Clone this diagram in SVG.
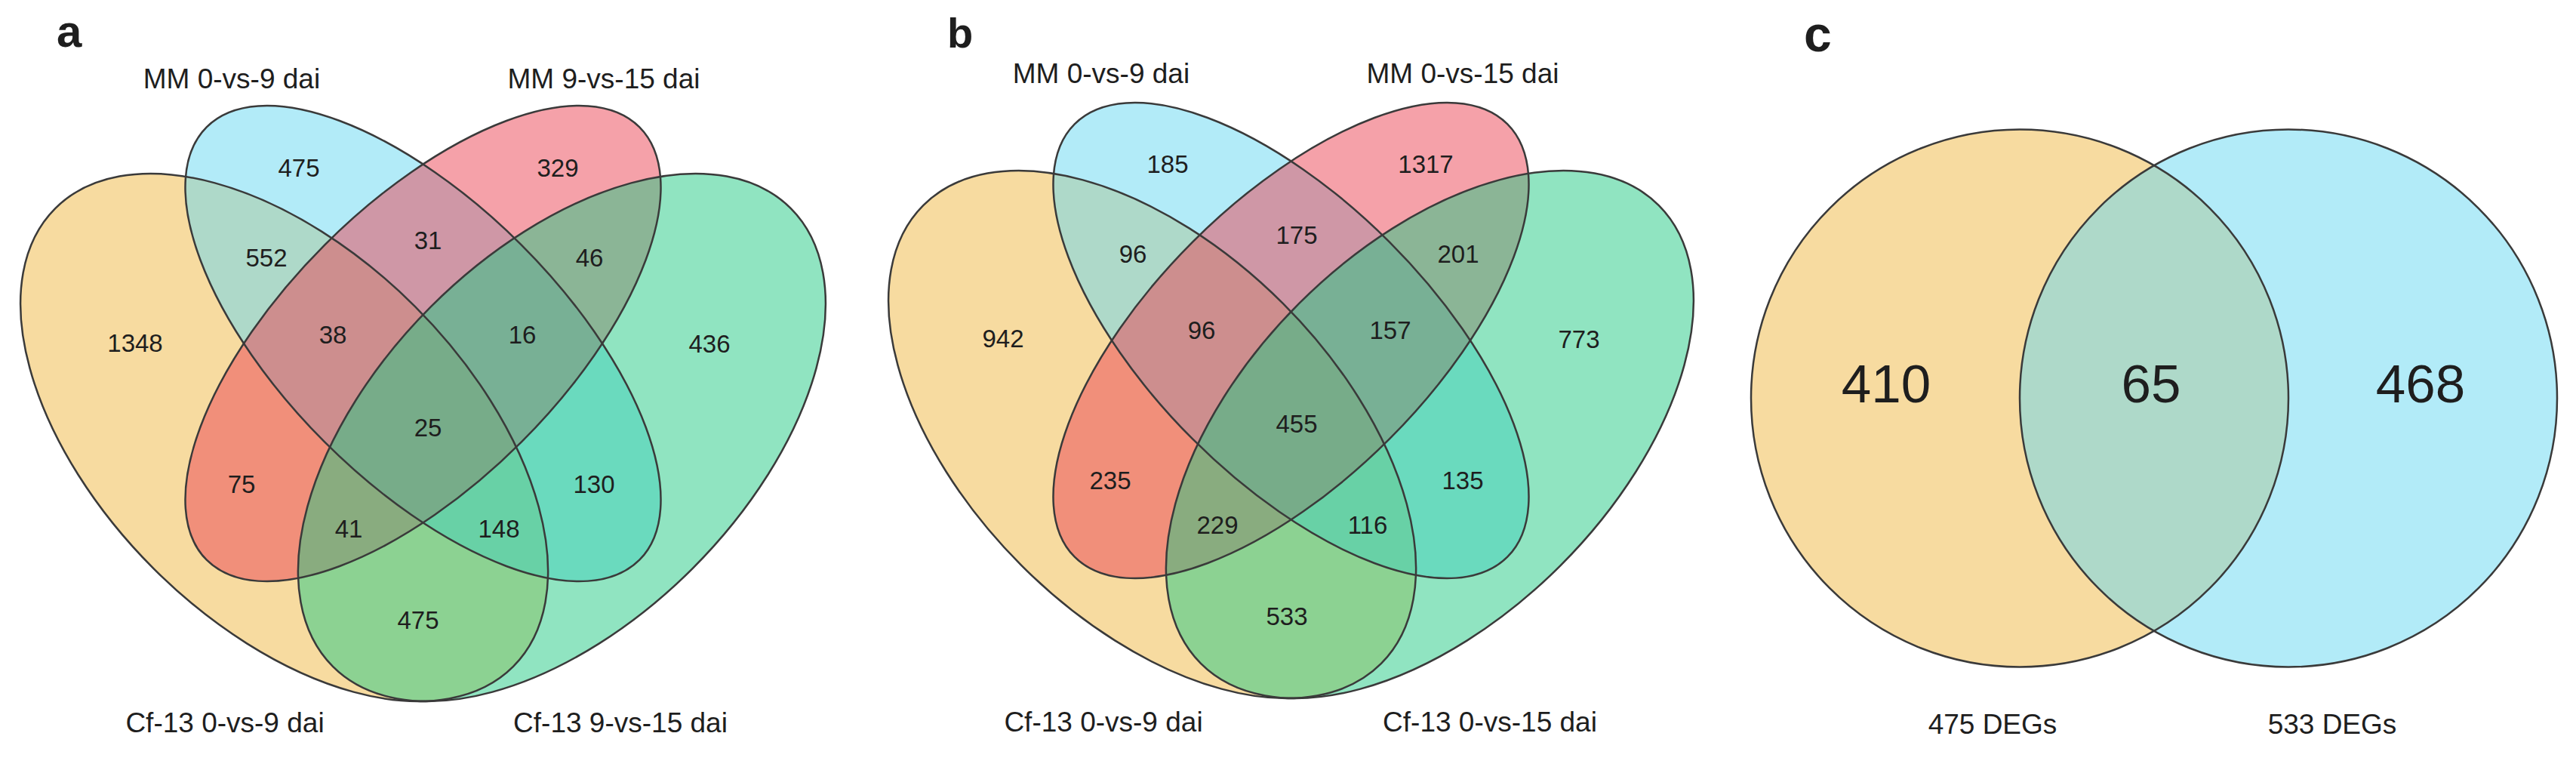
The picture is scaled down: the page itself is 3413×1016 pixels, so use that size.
<svg xmlns="http://www.w3.org/2000/svg" xmlns:xlink="http://www.w3.org/1999/xlink" width="3413" height="1016" viewBox="0 0 3413 1016">
<style>
text{font-family:"Liberation Sans",Arial,sans-serif;fill:#1e1e1e}
.n{text-anchor:middle;font-size:33px}
.l{text-anchor:middle;font-size:37px}
.big{text-anchor:middle;font-size:71px}
.p{font-weight:bold}
.y{fill:#EFB741;fill-opacity:.5}
.bl{fill:#65D7F1;fill-opacity:.5}
.pk{fill:#EB4353;fill-opacity:.5}
.gr{fill:#21C983;fill-opacity:.5}
.ol{fill:none;stroke:#3a3a3a;stroke-width:2.5}
</style>
<defs>
<ellipse id="e1" cx="376.6" cy="579.5" rx="429.1" ry="245.2" transform="rotate(45 376.6 579.5)"/>
<ellipse id="e2" cx="560.5" cy="455" rx="405.5" ry="184.5" transform="rotate(45 560.5 455)"/>
<ellipse id="e3" cx="560.5" cy="455" rx="405.5" ry="184.5" transform="rotate(-45 560.5 455)"/>
<ellipse id="e4" cx="744.4" cy="579.5" rx="429.1" ry="245.2" transform="rotate(-45 744.4 579.5)"/>
</defs>

<!-- Panel a -->
<g id="panel-a">
<text class="p" x="75" y="62" font-size="60">a</text>
<g id="a-set1"><use xlink:href="#e1" class="y"/><text class="l" x="298" y="970">Cf-13 0-vs-9 dai</text></g>
<g id="a-set2"><use xlink:href="#e2" class="bl"/><text class="l" x="307" y="117">MM 0-vs-9 dai</text></g>
<g id="a-set3"><use xlink:href="#e3" class="pk"/><text class="l" x="800" y="117">MM 9-vs-15 dai</text></g>
<g id="a-set4"><use xlink:href="#e4" class="gr"/><text class="l" x="822" y="970">Cf-13 9-vs-15 dai</text></g>
<g id="a-outlines">
<use xlink:href="#e1" class="ol"/><use xlink:href="#e2" class="ol"/><use xlink:href="#e3" class="ol"/><use xlink:href="#e4" class="ol"/>
</g>
<g id="a-counts">
<text class="n" x="396" y="234">475</text>
<text class="n" x="739" y="234">329</text>
<text class="n" x="353" y="353">552</text>
<text class="n" x="567" y="330">31</text>
<text class="n" x="781" y="353">46</text>
<text class="n" x="179" y="466" font-size="32">1348</text>
<text class="n" x="441" y="455">38</text>
<text class="n" x="692" y="455">16</text>
<text class="n" x="940" y="467" font-size="36">436</text>
<text class="n" x="567" y="578">25</text>
<text class="n" x="320" y="653">75</text>
<text class="n" x="787" y="653" font-size="34">130</text>
<text class="n" x="462" y="712">41</text>
<text class="n" x="661" y="712">148</text>
<text class="n" x="554" y="833" font-size="36">475</text>
</g>
</g>

<!-- Panel b -->
<g id="panel-b">
<text class="p" x="1255" y="63" font-size="56">b</text>
<g transform="translate(1150,-4)">
<g id="b-set1"><use xlink:href="#e1" class="y"/></g>
<g id="b-set2"><use xlink:href="#e2" class="bl"/></g>
<g id="b-set3"><use xlink:href="#e3" class="pk"/></g>
<g id="b-set4"><use xlink:href="#e4" class="gr"/></g>
<g id="b-outlines">
<use xlink:href="#e1" class="ol"/><use xlink:href="#e2" class="ol"/><use xlink:href="#e3" class="ol"/><use xlink:href="#e4" class="ol"/>
</g>
</g>
<g id="b-labels">
<text class="l" x="1459" y="110">MM 0-vs-9 dai</text>
<text class="l" x="1938" y="110">MM 0-vs-15 dai</text>
<text class="l" x="1462" y="969">Cf-13 0-vs-9 dai</text>
<text class="l" x="1974" y="969">Cf-13 0-vs-15 dai</text>
</g>
<g id="b-counts">
<text class="n" x="1547" y="229">185</text>
<text class="n" x="1889" y="229" font-size="32">1317</text>
<text class="n" x="1501" y="348">96</text>
<text class="n" x="1718" y="323">175</text>
<text class="n" x="1932" y="348">201</text>
<text class="n" x="1329" y="460">942</text>
<text class="n" x="1592" y="449">96</text>
<text class="n" x="1842" y="449">157</text>
<text class="n" x="2092" y="461" font-size="36">773</text>
<text class="n" x="1718" y="573">455</text>
<text class="n" x="1471" y="648">235</text>
<text class="n" x="1938" y="648" font-size="34">135</text>
<text class="n" x="1613" y="707">229</text>
<text class="n" x="1812" y="707">116</text>
<text class="n" x="1705" y="828" font-size="36">533</text>
</g>
</g>

<!-- Panel c -->
<g id="panel-c">
<text class="p" x="2390" y="68" font-size="66">c</text>
<g id="c-set1"><circle cx="2676" cy="527.5" r="356" class="y"/></g>
<g id="c-set2"><circle cx="3032" cy="527.5" r="356" class="bl"/></g>
<g id="c-outlines">
<circle cx="2676" cy="527.5" r="356" class="ol"/>
<circle cx="3032" cy="527.5" r="356" class="ol"/>
</g>
<g id="c-counts">
<text class="big" x="2499" y="533">410</text>
<text class="big" x="2850" y="533">65</text>
<text class="big" x="3207" y="533">468</text>
</g>
<g id="c-labels">
<text class="l" x="2640" y="972">475 DEGs</text>
<text class="l" x="3090" y="972">533 DEGs</text>
</g>
</g>
</svg>
